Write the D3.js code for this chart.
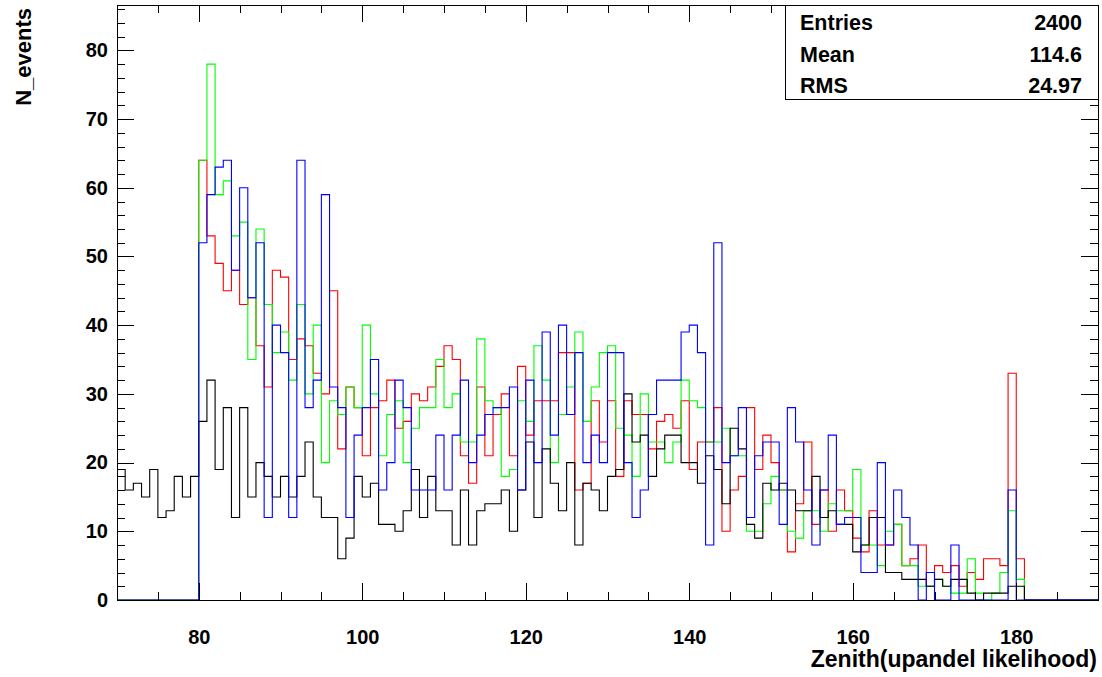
<!DOCTYPE html>
<html>
<head>
<meta charset="utf-8">
<script src="https://cdn.jsdelivr.net/npm/d3@7"></script>
<style>
  html, body { margin: 0; padding: 0; background: #ffffff; }
  svg { display: block; }
  text { font-family: "Liberation Sans", Arial, Helvetica, sans-serif; font-weight: bold; fill: #000; }
</style>
</head>
<body>
<svg id="chart" width="1102" height="677"></svg>
<script>
// ---------------- data ----------------
const xDomain = [70, 190];
const yDomain = [0, 86.6];
const xMajorTicks = [80, 100, 120, 140, 160, 180];
const yMajorTicks = [0, 10, 20, 30, 40, 50, 60, 70, 80];

// black histogram: bins of width 1 starting at 70
const blackStart = 70;
const blackValues = [
  19,16,17,15,19,12,13,18,15,18,
  26,32,19,28,12,28,15,20,18,15,
  18,15,18,23,15,12,12,6,9,18,
  15,17,11,11,10,13,19,12,18,13,
  13,8,16,8,13,14,14,16,10,16,
  23,12,22,17,13,20,8,17,16,13,
  18,19,30,23,24,18,22,24,24,20,
  20,17,21,19,14,25,22,11,9,17,
  16,17,16,13,13,18,12,13,11,11,
  7,8,12,12,4,4,3,3,3,2,
  3,2,3,3,1,0,1,1,1,2,2
];

// colored histograms: bins of width 1 starting at 80
const colorStart = 80;
const redValues = [
  64,53,49,45,48,43,44,37,31,48,
  47,35,38,37,33,30,45,22,31,28,
  21,28,29,32,25,26,30,29,31,34,
  37,35,21,17,31,21,27,30,21,34,
  24,29,29,29,36,36,16,17,29,23,
  29,18,29,27,27,22,26,27,25,29,
  19,23,23,28,10,16,18,28,19,24,
  20,16,7,14,23,11,16,10,16,13,
  9,7,13,8,8,11,5,6,8,2,
  5,4,5,2,4,3,6,6,5,33,6
];
const greenValues = [
  64,78,59,61,53,55,35,54,43,36,
  39,32,43,30,40,20,29,27,31,28,
  40,30,21,27,29,20,25,28,28,35,
  28,30,23,23,38,29,28,18,19,29,
  26,37,32,20,27,31,39,26,31,36,
  37,25,24,18,30,23,23,20,23,32,
  29,28,23,23,25,21,21,10,10,14,
  18,16,10,9,13,13,10,14,13,13,
  19,8,8,5,10,11,5,5,2,2,
  3,2,1,1,6,1,0,1,4,13,3
];
const blueValues = [
  52,59,63,64,48,60,44,52,12,40,
  36,12,64,28,32,59,31,28,12,24,
  28,35,16,20,32,28,16,16,16,24,
  16,24,32,20,24,27,28,28,31,16,
  32,20,39,24,40,27,36,20,24,20,
  36,36,20,12,16,27,32,32,32,39,
  40,36,8,52,20,21,28,12,21,23,
  23,11,28,23,16,8,16,24,11,12,
  12,4,4,20,8,16,12,8,0,4,
  0,0,8,0,0,0,0,0,0,16,0
];

const statsLabels = ["Entries", "Mean", "RMS"];
const statsValues = ["2400", "114.6", "24.97"];
const xTitle = "Zenith(upandel likelihood)";
const yTitle = "N_events";

// ---------------- layout ----------------
const frame = { left: 117, right: 1098, top: 5, bottom: 600 };
const svg = d3.select("#chart");

const x = d3.scaleLinear().domain(xDomain).range([frame.left, frame.right]);
const y = d3.scaleLinear().domain(yDomain).range([frame.bottom, frame.top]);

// ---------------- histograms ----------------
function histPoints(start, values, leadingZero) {
  const pts = [];
  if (leadingZero) pts.push([xDomain[0], 0]);
  values.forEach((v, i) => pts.push([start + i, v]));
  const end = start + values.length;
  pts.push([end, 0]);
  pts.push([xDomain[1], 0]);
  return pts;
}

const line = d3.line()
  .x(d => x(d[0]))
  .y(d => y(d[1]))
  .curve(d3.curveStepAfter);

const plot = svg.append("g");
const series = [
  { values: redValues, start: colorStart, color: "#ff0000", lead: true },
  { values: greenValues, start: colorStart, color: "#00ff00", lead: true },
  { values: blackValues, start: blackStart, color: "#000000", lead: false },
  { values: blueValues, start: colorStart, color: "#0000ff", lead: true }
];
series.forEach(s => {
  plot.append("path")
    .attr("d", line(histPoints(s.start, s.values, s.lead)))
    .attr("fill", "none")
    .attr("stroke", s.color)
    .attr("stroke-width", 1.1);
});

// ---------------- axes ----------------
const majorLen = 17, minorLen = 8;
const labelSize = 20;
const xMinorTicks = d3.range(70, 190.01, 5).filter(v => !xMajorTicks.includes(v));
const yMinorTicks = d3.range(0, 86.6, 2).filter(v => !yMajorTicks.includes(v));

function styleAxis(g) {
  g.select(".domain").remove();
  g.selectAll(".tick line").attr("stroke", "#000").attr("stroke-width", 1).attr("shape-rendering", "crispEdges");
}

// bottom
svg.append("g").attr("transform", `translate(0,${frame.bottom})`)
  .call(d3.axisBottom(x).tickValues(xMinorTicks).tickSize(-minorLen).tickFormat(""))
  .call(styleAxis);
const xAxisG = svg.append("g").attr("transform", `translate(0,${frame.bottom})`)
  .call(d3.axisBottom(x).tickValues(xMajorTicks).tickSize(-majorLen).tickPadding(30).tickFormat(d3.format("d")))
  .call(styleAxis);
xAxisG.selectAll(".tick text")
  .attr("font-size", labelSize).attr("font-weight", "bold")
  .attr("font-family", "'Liberation Sans', Arial, sans-serif").attr("fill", "#000");

// top (mirror ticks)
svg.append("g").attr("transform", `translate(0,${frame.top})`)
  .call(d3.axisTop(x).tickValues(xMinorTicks).tickSize(-minorLen).tickFormat(""))
  .call(styleAxis);
svg.append("g").attr("transform", `translate(0,${frame.top})`)
  .call(d3.axisTop(x).tickValues(xMajorTicks).tickSize(-majorLen).tickFormat(""))
  .call(styleAxis);

// left
svg.append("g").attr("transform", `translate(${frame.left},0)`)
  .call(d3.axisLeft(y).tickValues(yMinorTicks).tickSize(-minorLen).tickFormat(""))
  .call(styleAxis);
const yAxisG = svg.append("g").attr("transform", `translate(${frame.left},0)`)
  .call(d3.axisLeft(y).tickValues(yMajorTicks).tickSize(-majorLen).tickPadding(9).tickFormat(d3.format("d")))
  .call(styleAxis);
yAxisG.selectAll(".tick text")
  .attr("font-size", labelSize).attr("font-weight", "bold")
  .attr("font-family", "'Liberation Sans', Arial, sans-serif").attr("fill", "#000");

// right (mirror ticks)
svg.append("g").attr("transform", `translate(${frame.right},0)`)
  .call(d3.axisRight(y).tickValues(yMinorTicks).tickSize(-minorLen).tickFormat(""))
  .call(styleAxis);
svg.append("g").attr("transform", `translate(${frame.right},0)`)
  .call(d3.axisRight(y).tickValues(yMajorTicks).tickSize(-majorLen).tickFormat(""))
  .call(styleAxis);

// frame
svg.append("rect")
  .attr("x", frame.left).attr("y", frame.top)
  .attr("width", frame.right - frame.left).attr("height", frame.bottom - frame.top)
  .attr("fill", "none").attr("stroke", "#000").attr("stroke-width", 1)
  .attr("shape-rendering", "crispEdges");

// axis titles
svg.append("text")
  .attr("x", 1097).attr("y", 667)
  .attr("text-anchor", "end")
  .attr("font-size", 23)
  .text(xTitle);

svg.append("text")
  .attr("transform", "translate(31,8) rotate(-90)")
  .attr("text-anchor", "end")
  .attr("font-size", 22)
  .text(yTitle);

// ---------------- stats box ----------------
const box = { x0: 785, x1: 1098, y0: 5, y1: 99 };
svg.append("rect")
  .attr("x", box.x0).attr("y", box.y0)
  .attr("width", box.x1 - box.x0).attr("height", box.y1 - box.y0)
  .attr("fill", "#fff").attr("stroke", "#000").attr("stroke-width", 1)
  .attr("shape-rendering", "crispEdges");
const rowH = (box.y1 - box.y0) / statsLabels.length;
statsLabels.forEach((lab, i) => {
  const cy = box.y0 + rowH * (i + 0.5) + 2;
  svg.append("text").attr("x", 800).attr("y", cy).attr("dy", "0.36em")
    .attr("font-size", 21.5).text(lab);
  svg.append("text").attr("x", 1082).attr("y", cy).attr("dy", "0.36em")
    .attr("text-anchor", "end").attr("font-size", 21.5).text(statsValues[i]);
});
</script>
</body>
</html>
